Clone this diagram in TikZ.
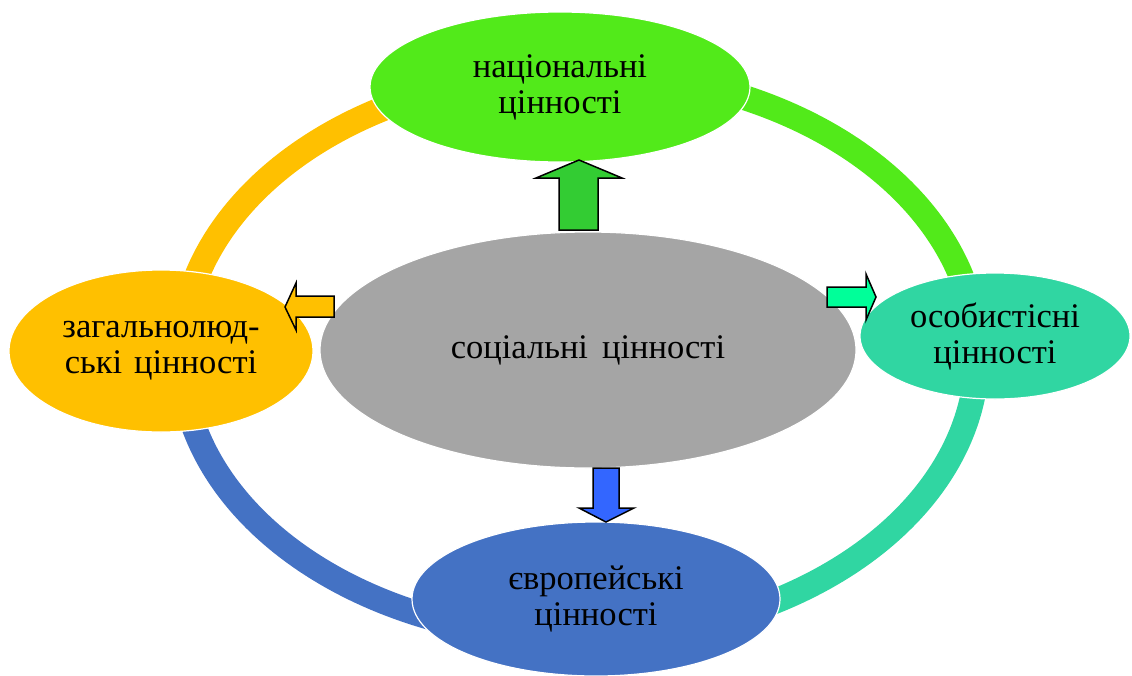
\documentclass[tikz,border=0pt]{standalone}
\usepackage{fontspec}
\setmainfont{Liberation Serif}
\usetikzlibrary{shapes.geometric}
\definecolor{cgreen}{HTML}{52EA1A}
\definecolor{corange}{HTML}{FFC000}
\definecolor{cteal}{HTML}{30D6A2}
\definecolor{cblue}{HTML}{4472C4}
\definecolor{cgray}{HTML}{A5A5A5}
\definecolor{agreen}{HTML}{33CC33}
\definecolor{aorange}{HTML}{FFC000}
\definecolor{ateal}{HTML}{00FF99}
\definecolor{ablue}{HTML}{3366FF}
\begin{document}
\begin{tikzpicture}[x=1pt,y=-1pt,
  val/.style={ellipse, draw=white, line width=1.2pt, inner sep=0pt, align=center,
    font=\fontsize{34.5}{36}\selectfont},
  ringseg/.style={line width=25pt},
  blockarrow/.style={draw=black, line width=1.5pt, line join=miter}]
\useasboundingbox (0,0) rectangle (1132,675);
% ring segments
\draw[ringseg, corange] plot[domain=180:270, samples=90] ({579+398*cos(\x)},{355+283*sin(\x)});
\draw[ringseg, cgreen] plot[domain=270:360, samples=90] ({579+398*cos(\x)},{355+283*sin(\x)});
\draw[ringseg, cteal] plot[domain=0:90, samples=90] ({579+398*cos(\x)},{355+283*sin(\x)});
\draw[ringseg, cblue] plot[domain=90:180, samples=90] ({579+398*cos(\x)},{355+283*sin(\x)});
% outer nodes
\node[val, fill=cgreen, minimum width=380pt, minimum height=150pt] (nat) at (560,87) {національні\\цінності};
\node[val, fill=corange, minimum width=304pt, minimum height=162pt] (zag) at (161,351) {загальнолюд-\\ські\hspace{12pt}цінності};
\node[val, fill=cteal, minimum width=270pt, minimum height=126pt] (oso) at (995,336) {особистісні\\цінності};
\node[val, fill=cblue, minimum width=368pt, minimum height=154pt] (evr) at (596,599) {європейські\\цінності};
% centre
\node[val, fill=cgray, minimum width=536pt, minimum height=236pt] (soc) at (588,350) {соціальні\hspace{14pt}цінності};
% block arrows
\draw[blockarrow, fill=agreen] (579,160) -- (622,178) -- (598,178) -- (598,230) -- (559,230) -- (559,178) -- (536,178) -- cycle;
\draw[blockarrow, fill=aorange] (285,307) -- (296,283) -- (296,296) -- (334,296) -- (334,317) -- (296,317) -- (296,330) -- cycle;
\draw[blockarrow, fill=ateal] (876,297) -- (866,320) -- (866,307) -- (827,307) -- (827,287) -- (866,287) -- (866,274) -- cycle;
\draw[blockarrow, fill=ablue] (606,522) -- (579,508) -- (593,508) -- (593,468) -- (619,468) -- (619,508) -- (634,508) -- cycle;
\end{tikzpicture}
\end{document}
